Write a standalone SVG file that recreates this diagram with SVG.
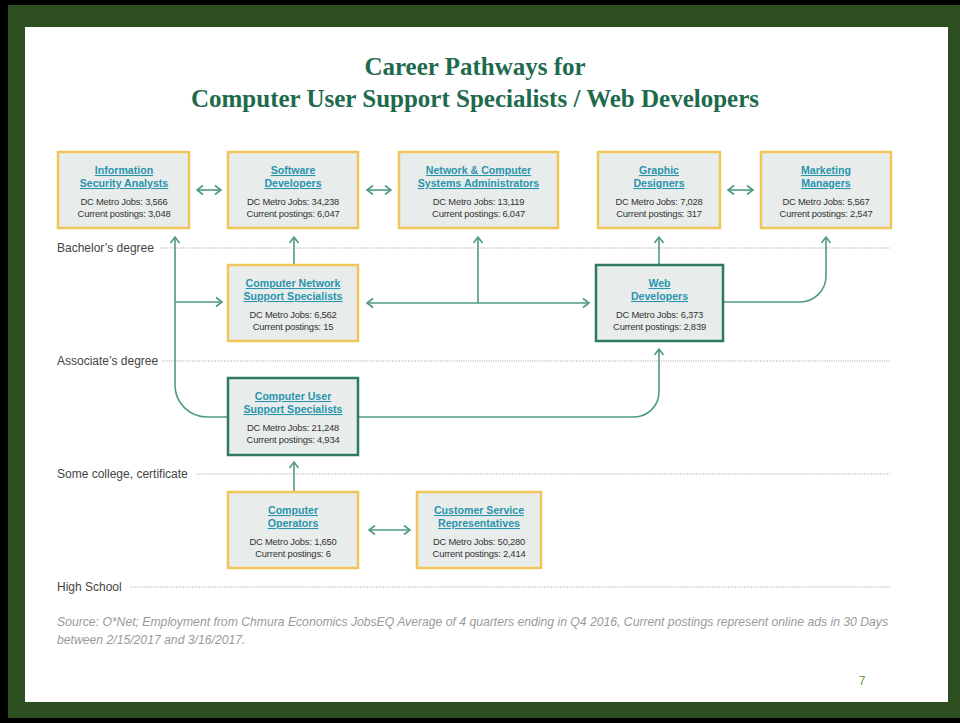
<svg xmlns="http://www.w3.org/2000/svg" width="960" height="723" viewBox="0 0 960 723">
<style>
.box{fill:#e8edeb;stroke:#f0c65a;stroke-width:2.5}
.gbox{fill:#e8edeb;stroke:#2e7a5e;stroke-width:2.5}
.ttl{font-family:"Liberation Sans",Arial,sans-serif;font-weight:bold;font-size:10.6px;fill:#2a94ae;text-decoration:underline;text-anchor:middle}
.body{font-family:"Liberation Sans",Arial,sans-serif;font-size:9.4px;fill:#333;text-anchor:middle;letter-spacing:-0.2px}
.lvl{font-family:"Liberation Sans",Arial,sans-serif;font-size:12px;fill:#444}
.dot{stroke:#a0a0a0;stroke-width:1.2;stroke-dasharray:1 1.3;fill:none}
.con{stroke:#4f9a82;stroke-width:1.6;fill:none}
.note{font-family:"Liberation Sans",Arial,sans-serif;font-style:italic;font-size:12.2px;fill:#9a9a9a}
</style>
<defs>
<marker id="ah" markerUnits="userSpaceOnUse" markerWidth="12" markerHeight="12" refX="0" refY="0" viewBox="-8 -6 10 12" orient="auto-start-reverse" overflow="visible">
<path d="M -6 -4.5 L 0 0 L -6 4.5" fill="none" stroke="#4f9a82" stroke-width="1.6"/>
</marker>
</defs>
<rect x="0" y="0" width="960" height="723" fill="#000"/>
<rect x="8" y="5" width="952" height="713" fill="#2d4e1f"/>
<rect x="25" y="27" width="923" height="675" fill="#fff"/>
<g id="title" font-family="'Liberation Serif','Times New Roman',serif" font-weight="bold" fill="#1d6a4c" text-anchor="middle">
<text x="475" y="75" font-size="25px">Career Pathways for</text>
<text x="475" y="107" font-size="25px">Computer User Support Specialists / Web Developers</text>
</g>
<g id="levels">
<text class="lvl" x="57" y="252">Bachelor’s degree</text>
<line class="dot" x1="160" y1="248" x2="890" y2="248"/>
<text class="lvl" x="57" y="365">Associate’s degree</text>
<line class="dot" x1="162" y1="361" x2="890" y2="361"/>
<text class="lvl" x="57" y="478">Some college, certificate</text>
<line class="dot" x1="197" y1="474" x2="890" y2="474"/>
<text class="lvl" x="57" y="591">High School</text>
<line class="dot" x1="130" y1="587" x2="890" y2="587"/>
</g>
<g id="connectors">
<line class="con" x1="197" y1="190" x2="221" y2="190" marker-start="url(#ah)" marker-end="url(#ah)"/>
<line class="con" x1="367" y1="190" x2="391" y2="190" marker-start="url(#ah)" marker-end="url(#ah)"/>
<line class="con" x1="728" y1="190" x2="753" y2="190" marker-start="url(#ah)" marker-end="url(#ah)"/>
<path class="con" d="M 228 417 H 207 A 32 32 0 0 1 175 385 V 237" marker-end="url(#ah)"/>
<path class="con" d="M 175 302 H 222" marker-end="url(#ah)"/>
<path class="con" d="M 294 265 V 237" marker-end="url(#ah)"/>
<line class="con" x1="367" y1="303" x2="589" y2="303" marker-start="url(#ah)" marker-end="url(#ah)"/>
<path class="con" d="M 478 303 V 237" marker-end="url(#ah)"/>
<path class="con" d="M 659 265 V 237" marker-end="url(#ah)"/>
<path class="con" d="M 723 302 H 800 A 26 26 0 0 0 826 276 V 237" marker-end="url(#ah)"/>
<path class="con" d="M 358 417 H 634 A 25 25 0 0 0 659 392 V 349" marker-end="url(#ah)"/>
<path class="con" d="M 294 492 V 462" marker-end="url(#ah)"/>
<line class="con" x1="369" y1="530" x2="410" y2="530" marker-start="url(#ah)" marker-end="url(#ah)"/>
</g>
<g id="info-security">
<rect class="box" x="58" y="152" width="131" height="76"/>
<text class="ttl" x="124" y="174">Information </text>
<text class="ttl" x="124" y="187">Security Analysts</text>
<text class="body" x="124" y="205">DC Metro Jobs: 3,566</text>
<text class="body" x="124" y="216.5">Current postings: 3,048</text>
</g>
<g id="software-dev">
<rect class="box" x="228" y="152" width="130" height="76"/>
<text class="ttl" x="293" y="174">Software </text>
<text class="ttl" x="293" y="187">Developers</text>
<text class="body" x="293" y="205">DC Metro Jobs: 34,238</text>
<text class="body" x="293" y="216.5">Current postings: 6,047</text>
</g>
<g id="network-admin">
<rect class="box" x="399" y="152" width="159" height="76"/>
<text class="ttl" x="478.5" y="174">Network &amp; Computer </text>
<text class="ttl" x="478.5" y="187">Systems Administrators</text>
<text class="body" x="478.5" y="205">DC Metro Jobs: 13,119</text>
<text class="body" x="478.5" y="216.5">Current postings: 6,047</text>
</g>
<g id="graphic-designers">
<rect class="box" x="598" y="152" width="122" height="76"/>
<text class="ttl" x="659" y="174">Graphic </text>
<text class="ttl" x="659" y="187">Designers</text>
<text class="body" x="659" y="205">DC Metro Jobs: 7,028</text>
<text class="body" x="659" y="216.5">Current postings: 317</text>
</g>
<g id="marketing-managers">
<rect class="box" x="761" y="152" width="130" height="76"/>
<text class="ttl" x="826" y="174">Marketing </text>
<text class="ttl" x="826" y="187">Managers</text>
<text class="body" x="826" y="205">DC Metro Jobs: 5,567</text>
<text class="body" x="826" y="216.5">Current postings: 2,547</text>
</g>
<g id="network-support">
<rect class="box" x="228" y="265" width="130" height="76"/>
<text class="ttl" x="293" y="287">Computer Network</text>
<text class="ttl" x="293" y="300">Support Specialists</text>
<text class="body" x="293" y="318">DC Metro Jobs: 6,562</text>
<text class="body" x="293" y="329.5">Current postings: 15</text>
</g>
<g id="web-developers">
<rect class="gbox" x="596" y="265" width="127" height="76"/>
<text class="ttl" x="659.5" y="287">Web </text>
<text class="ttl" x="659.5" y="300">Developers</text>
<text class="body" x="659.5" y="318">DC Metro Jobs: 6,373</text>
<text class="body" x="659.5" y="329.5">Current postings: 2,839</text>
</g>
<g id="user-support">
<rect class="gbox" x="228" y="378" width="130" height="77"/>
<text class="ttl" x="293" y="400">Computer User </text>
<text class="ttl" x="293" y="413">Support Specialists</text>
<text class="body" x="293" y="431">DC Metro Jobs: 21,248</text>
<text class="body" x="293" y="442.5">Current postings: 4,934</text>
</g>
<g id="computer-operators">
<rect class="box" x="228" y="492" width="130" height="76"/>
<text class="ttl" x="293" y="514">Computer</text>
<text class="ttl" x="293" y="527">Operators</text>
<text class="body" x="293" y="545">DC Metro Jobs: 1,650</text>
<text class="body" x="293" y="556.5">Current postings: 6</text>
</g>
<g id="customer-service">
<rect class="box" x="417" y="492" width="124" height="76"/>
<text class="ttl" x="479" y="514">Customer Service </text>
<text class="ttl" x="479" y="527">Representatives</text>
<text class="body" x="479" y="545">DC Metro Jobs: 50,280</text>
<text class="body" x="479" y="556.5">Current postings: 2,414</text>
</g>
<g id="footer">
<text class="note" x="57" y="626" textLength="831" lengthAdjust="spacingAndGlyphs">Source: O*Net; Employment from Chmura Economics JobsEQ  Average of 4 quarters ending in Q4 2016, Current postings represent online ads in 30 Days</text>
<text class="note" x="57" y="644">between 2/15/2017 and 3/16/2017.</text>
<text x="862" y="685" font-family="'Liberation Sans',Arial,sans-serif" font-size="12px" fill="#5f9f4c" text-anchor="middle">7</text>
</g>
</svg>
